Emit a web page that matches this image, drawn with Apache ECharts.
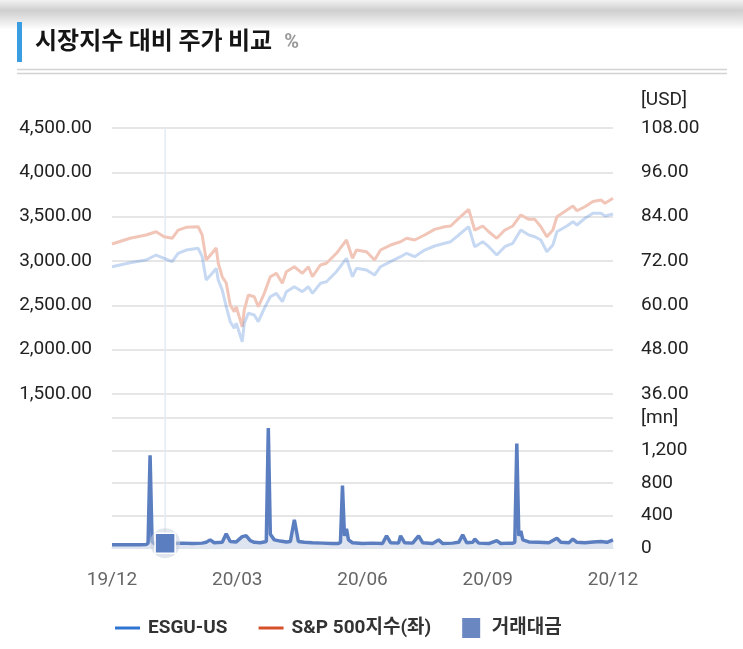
<!DOCTYPE html>
<html>
<head>
<meta charset="utf-8">
<script src="https://cdn.jsdelivr.net/npm/echarts@6/dist/echarts.min.js"></script>
<style>
  html, body { margin: 0; padding: 0; background: #fff; }
  #chart { width: 743px; height: 649px; }
</style>
</head>
<body>
<div id="chart"></div>
<script>
// x = trading session index, 0 .. 250 (19/12 .. 20/12)
var xTickLabels = ['19/12', '20/03', '20/06', '20/09', '20/12'];

// price lines
var priceDays = [0, 9, 17, 22, 26, 30, 33, 37, 43, 45,
  47, 50, 52, 53, 55, 57, 59, 61, 62, 65,
  66, 68, 71, 73, 76, 79, 82, 85, 87, 91,
  95, 98, 100, 104, 107, 112, 117, 120, 122, 127,
  131, 134, 139, 144, 147, 151, 156, 161, 166, 169,
  173, 178, 181, 185, 188, 192, 196, 200, 204, 208,
  211, 214, 217, 220, 222, 227, 230, 232, 236, 240,
  244, 246, 250];
var spxValues = [3192, 3256, 3293, 3330, 3274, 3256, 3349, 3380, 3387, 3293,
  3011, 3090, 3146, 2977, 2823, 2752, 2504, 2428, 2484, 2259,
  2447, 2616, 2597, 2484, 2635, 2823, 2861, 2748, 2879, 2935,
  2861, 2935, 2823, 2955, 2974, 3087, 3237, 3030, 3124, 3105,
  3011, 3124, 3180, 3217, 3256, 3237, 3293, 3357, 3387, 3395,
  3481, 3583, 3349, 3395, 3330, 3256, 3349, 3395, 3519, 3470,
  3470, 3387, 3274, 3349, 3499, 3575, 3620, 3567, 3612, 3670,
  3688, 3651, 3707];
var esguValues = [70.45, 71.54, 72.27, 73.62, 72.73, 71.81, 74.08, 74.97, 75.43, 73.16,
  66.85, 68.67, 70.02, 66.85, 64.15, 59.63, 55.57, 53.78, 55.13, 50.15,
  55.13, 57.84, 57.38, 55.57, 59.19, 62.33, 63.25, 60.98, 63.69, 65.04,
  63.69, 65.04, 63.25, 65.96, 66.40, 69.10, 72.73, 67.75, 70.02, 69.56,
  68.21, 70.45, 71.81, 73.16, 74.08, 73.16, 74.97, 76.06, 76.79, 77.22,
  79.03, 81.28, 75.87, 77.22, 75.87, 73.62, 75.87, 76.79, 80.39, 79.03,
  78.57, 77.68, 74.51, 76.33, 79.93, 81.47, 82.64, 81.74, 83.56, 84.91,
  84.91, 84.18, 84.72];

// 거래대금 (mn)
var volDays = [0, 8, 14, 17, 18, 19, 20, 21, 24, 26,
  30, 35, 40, 45, 47, 49, 51, 55, 57, 59,
  62, 65, 67, 69, 71, 74, 77, 78, 79, 81,
  84, 87, 89, 91, 93, 96, 100, 105, 110, 113,
  114, 115, 116, 117, 118, 120, 125, 130, 135, 137,
  139, 143, 144, 146, 150, 153, 155, 160, 163, 165,
  170, 173, 175, 177, 180, 181, 183, 188, 192, 194,
  198, 200, 201, 202, 203, 204, 205, 208, 213, 218,
  222, 224, 228, 230, 232, 236, 240, 244, 247, 250];
var volValues = [40, 40, 40, 42, 60, 1141, 80, 55, 50, 60,
  55, 60, 55, 60, 70, 100, 65, 70, 174, 80,
  75, 140, 150, 90, 70, 65, 80, 1476, 170, 100,
  85, 75, 80, 347, 80, 70, 65, 60, 55, 55,
  70, 769, 150, 236, 100, 65, 55, 60, 55, 150,
  65, 60, 150, 65, 60, 150, 65, 55, 100, 55,
  60, 70, 161, 65, 70, 110, 60, 55, 90, 55,
  60, 60, 70, 1286, 150, 211, 100, 75, 70, 65,
  120, 70, 65, 110, 70, 65, 75, 80, 70, 100];

// hovered point (crosshair)
var hoverDay = 26.5;
var hoverVol = 60;

var FONT = 'Roboto, "Noto Sans CJK KR", sans-serif';
var ESGU_COLOR = '#2f74d0';
var SPX_COLOR = '#d4512a';
var VOL_COLOR = '#5b7ec0';

function pairs(xs, ys) {
  return xs.map(function (x, i) { return [x, ys[i]]; });
}

var chart = echarts.init(document.getElementById('chart'));

var option = {
  animation: false,
  backgroundColor: '#fff',
  title: {
    left: 35,
    top: 21,
    padding: 0,
    text: '{t|시장지수 대비 주가 비교}{p|%}',
    textStyle: {
      rich: {
        t: { fontFamily: '"Noto Sans CJK KR", sans-serif', fontSize: 24, fontWeight: 'bold', color: '#151515', lineHeight: 38 },
        p: { fontFamily: FONT, fontSize: 20, color: '#9a9a9a', padding: [6, 0, 0, 12] }
      }
    }
  },
  legend: {
    left: 115,
    top: 618,
    padding: 0,
    itemWidth: 25,
    itemHeight: 20,
    itemGap: 31,
    textStyle: { fontFamily: FONT, fontSize: 19, fontWeight: 'bold', color: '#333', padding: [0, 0, 0, 3] },
    data: [
      { name: 'ESGU-US', icon: 'path://M0,0H25V3H0Z', itemStyle: { color: ESGU_COLOR, opacity: 1 } },
      { name: 'S&P 500지수(좌)', icon: 'path://M0,0H25V3H0Z', itemStyle: { color: SPX_COLOR, opacity: 1 } },
      { name: '거래대금', icon: 'path://M0,0H18V20H0Z', itemStyle: { color: '#6a87c2', opacity: 1 } }
    ]
  },
  grid: [
    { left: 112, right: 130, top: 128, height: 266 },
    { left: 112, right: 130, top: 418, height: 130 }
  ],
  xAxis: [
    { type: 'value', gridIndex: 0, min: 0, max: 250, interval: 62.5, show: false },
    {
      type: 'value', gridIndex: 1, min: 0, max: 250, interval: 62.5, offset: 5,
      axisLine: { show: true, lineStyle: { color: '#dce3ee', width: 1.5 } },
      axisTick: { show: false },
      splitLine: { show: false },
      axisLabel: {
        fontFamily: FONT, fontSize: 19, color: '#666', margin: 18,
        showMinLabel: true, showMaxLabel: true,
        formatter: function (v) { return xTickLabels[Math.round(v / 62.5)]; }
      }
    }
  ],
  yAxis: [
    {
      type: 'value', gridIndex: 0, position: 'left', min: 1500, max: 4500, interval: 500,
      axisLine: { show: false }, axisTick: { show: false },
      splitLine: { lineStyle: { color: '#dedede', width: 1.5 } },
      axisLabel: {
        fontFamily: FONT, fontSize: 19, color: '#222', margin: 20, padding: [5, 0, 0, 0],
        formatter: function (v) { return v.toLocaleString('en-US', { minimumFractionDigits: 2, maximumFractionDigits: 2 }); }
      }
    },
    {
      type: 'value', gridIndex: 0, position: 'right', min: 36, max: 108, interval: 12,
      name: '[USD]', nameLocation: 'end', nameGap: 28,
      nameTextStyle: { fontFamily: FONT, fontSize: 19, color: '#222', align: 'left', verticalAlign: 'middle', padding: [0, 0, 0, 28] },
      axisLine: { show: false }, axisTick: { show: false }, splitLine: { show: false },
      axisLabel: {
        fontFamily: FONT, fontSize: 19, color: '#222', margin: 28, padding: [5, 0, 0, 0],
        formatter: function (v) { return v.toFixed(2); }
      }
    },
    {
      type: 'value', gridIndex: 1, position: 'right', min: 0, max: 1600, interval: 400,
      axisLine: { show: false }, axisTick: { show: false },
      splitLine: { lineStyle: { color: '#dedede', width: 1.5 } },
      axisLabel: {
        fontFamily: FONT, fontSize: 19, color: '#222', margin: 28, padding: [3, 0, 0, 0],
        formatter: function (v) { return v === 1600 ? '[mn]' : v.toLocaleString('en-US'); }
      }
    }
  ],
  series: [
    {
      name: 'S&P 500지수(좌)', type: 'line', xAxisIndex: 0, yAxisIndex: 0,
      showSymbol: false, symbol: 'none',
      lineStyle: { color: '#f1c6b8', width: 3 },
      itemStyle: { color: SPX_COLOR },
      data: pairs(priceDays, spxValues)
    },
    {
      name: 'ESGU-US', type: 'line', xAxisIndex: 0, yAxisIndex: 1,
      showSymbol: false, symbol: 'none',
      lineStyle: { color: 'rgba(47,116,208,0.27)', width: 3 },
      itemStyle: { color: ESGU_COLOR },
      data: pairs(priceDays, esguValues)
    },
    {
      name: '거래대금', type: 'line', xAxisIndex: 1, yAxisIndex: 2,
      showSymbol: false, symbol: 'none',
      lineStyle: { color: VOL_COLOR, width: 3.5 },
      itemStyle: { color: VOL_COLOR },
      areaStyle: { color: '#dfe5f0', opacity: 1 },
      data: pairs(volDays, volValues),
      markPoint: {
        silent: true,
        label: { show: false },
        data: [
          { coord: [hoverDay, hoverVol], symbol: 'circle', symbolSize: 30, itemStyle: { color: 'rgba(200,208,222,0.55)' } },
          { coord: [hoverDay, hoverVol], symbol: 'rect', symbolSize: 20, itemStyle: { color: VOL_COLOR, borderColor: '#fff', borderWidth: 1.5 } }
        ]
      }
    }
  ],
  graphic: [
    {
      id: 'shade', type: 'rect', left: 0, top: 0, z: 0,
      shape: { width: 743, height: 30 },
      style: {
        fill: new echarts.graphic.LinearGradient(0, 0, 0, 1, [
          { offset: 0, color: '#f2f2f2' },
          { offset: 0.35, color: '#cfcfcf' },
          { offset: 1, color: '#ffffff' }
        ])
      }
    },
    { id: 'bar', type: 'rect', left: 17, top: 22, shape: { width: 5, height: 40 }, style: { fill: '#3b9de1' } },
    { id: 'sep1', type: 'line', shape: { x1: 17, y1: 69.5, x2: 727, y2: 69.5 }, style: { stroke: '#d2d2d2', lineWidth: 1.5 } },
    { id: 'sep2', type: 'line', shape: { x1: 17, y1: 73.5, x2: 727, y2: 73.5 }, style: { stroke: '#d2d2d2', lineWidth: 1.5 } }
  ]
};

chart.setOption(option);

// crosshair at the hovered session, positioned through the axes
var cx = chart.convertToPixel({ xAxisIndex: 1 }, hoverDay);
var cyTop = chart.convertToPixel({ yAxisIndex: 0 }, 4500);
var cyBot = chart.convertToPixel({ yAxisIndex: 2 }, 0) + 5;
chart.setOption({
  graphic: [
    { id: 'crosshair', type: 'line', z: 1, shape: { x1: cx, y1: cyTop, x2: cx, y2: cyBot }, style: { stroke: '#e3eaf6', lineWidth: 1.5 } }
  ]
});
</script>
</body>
</html>
